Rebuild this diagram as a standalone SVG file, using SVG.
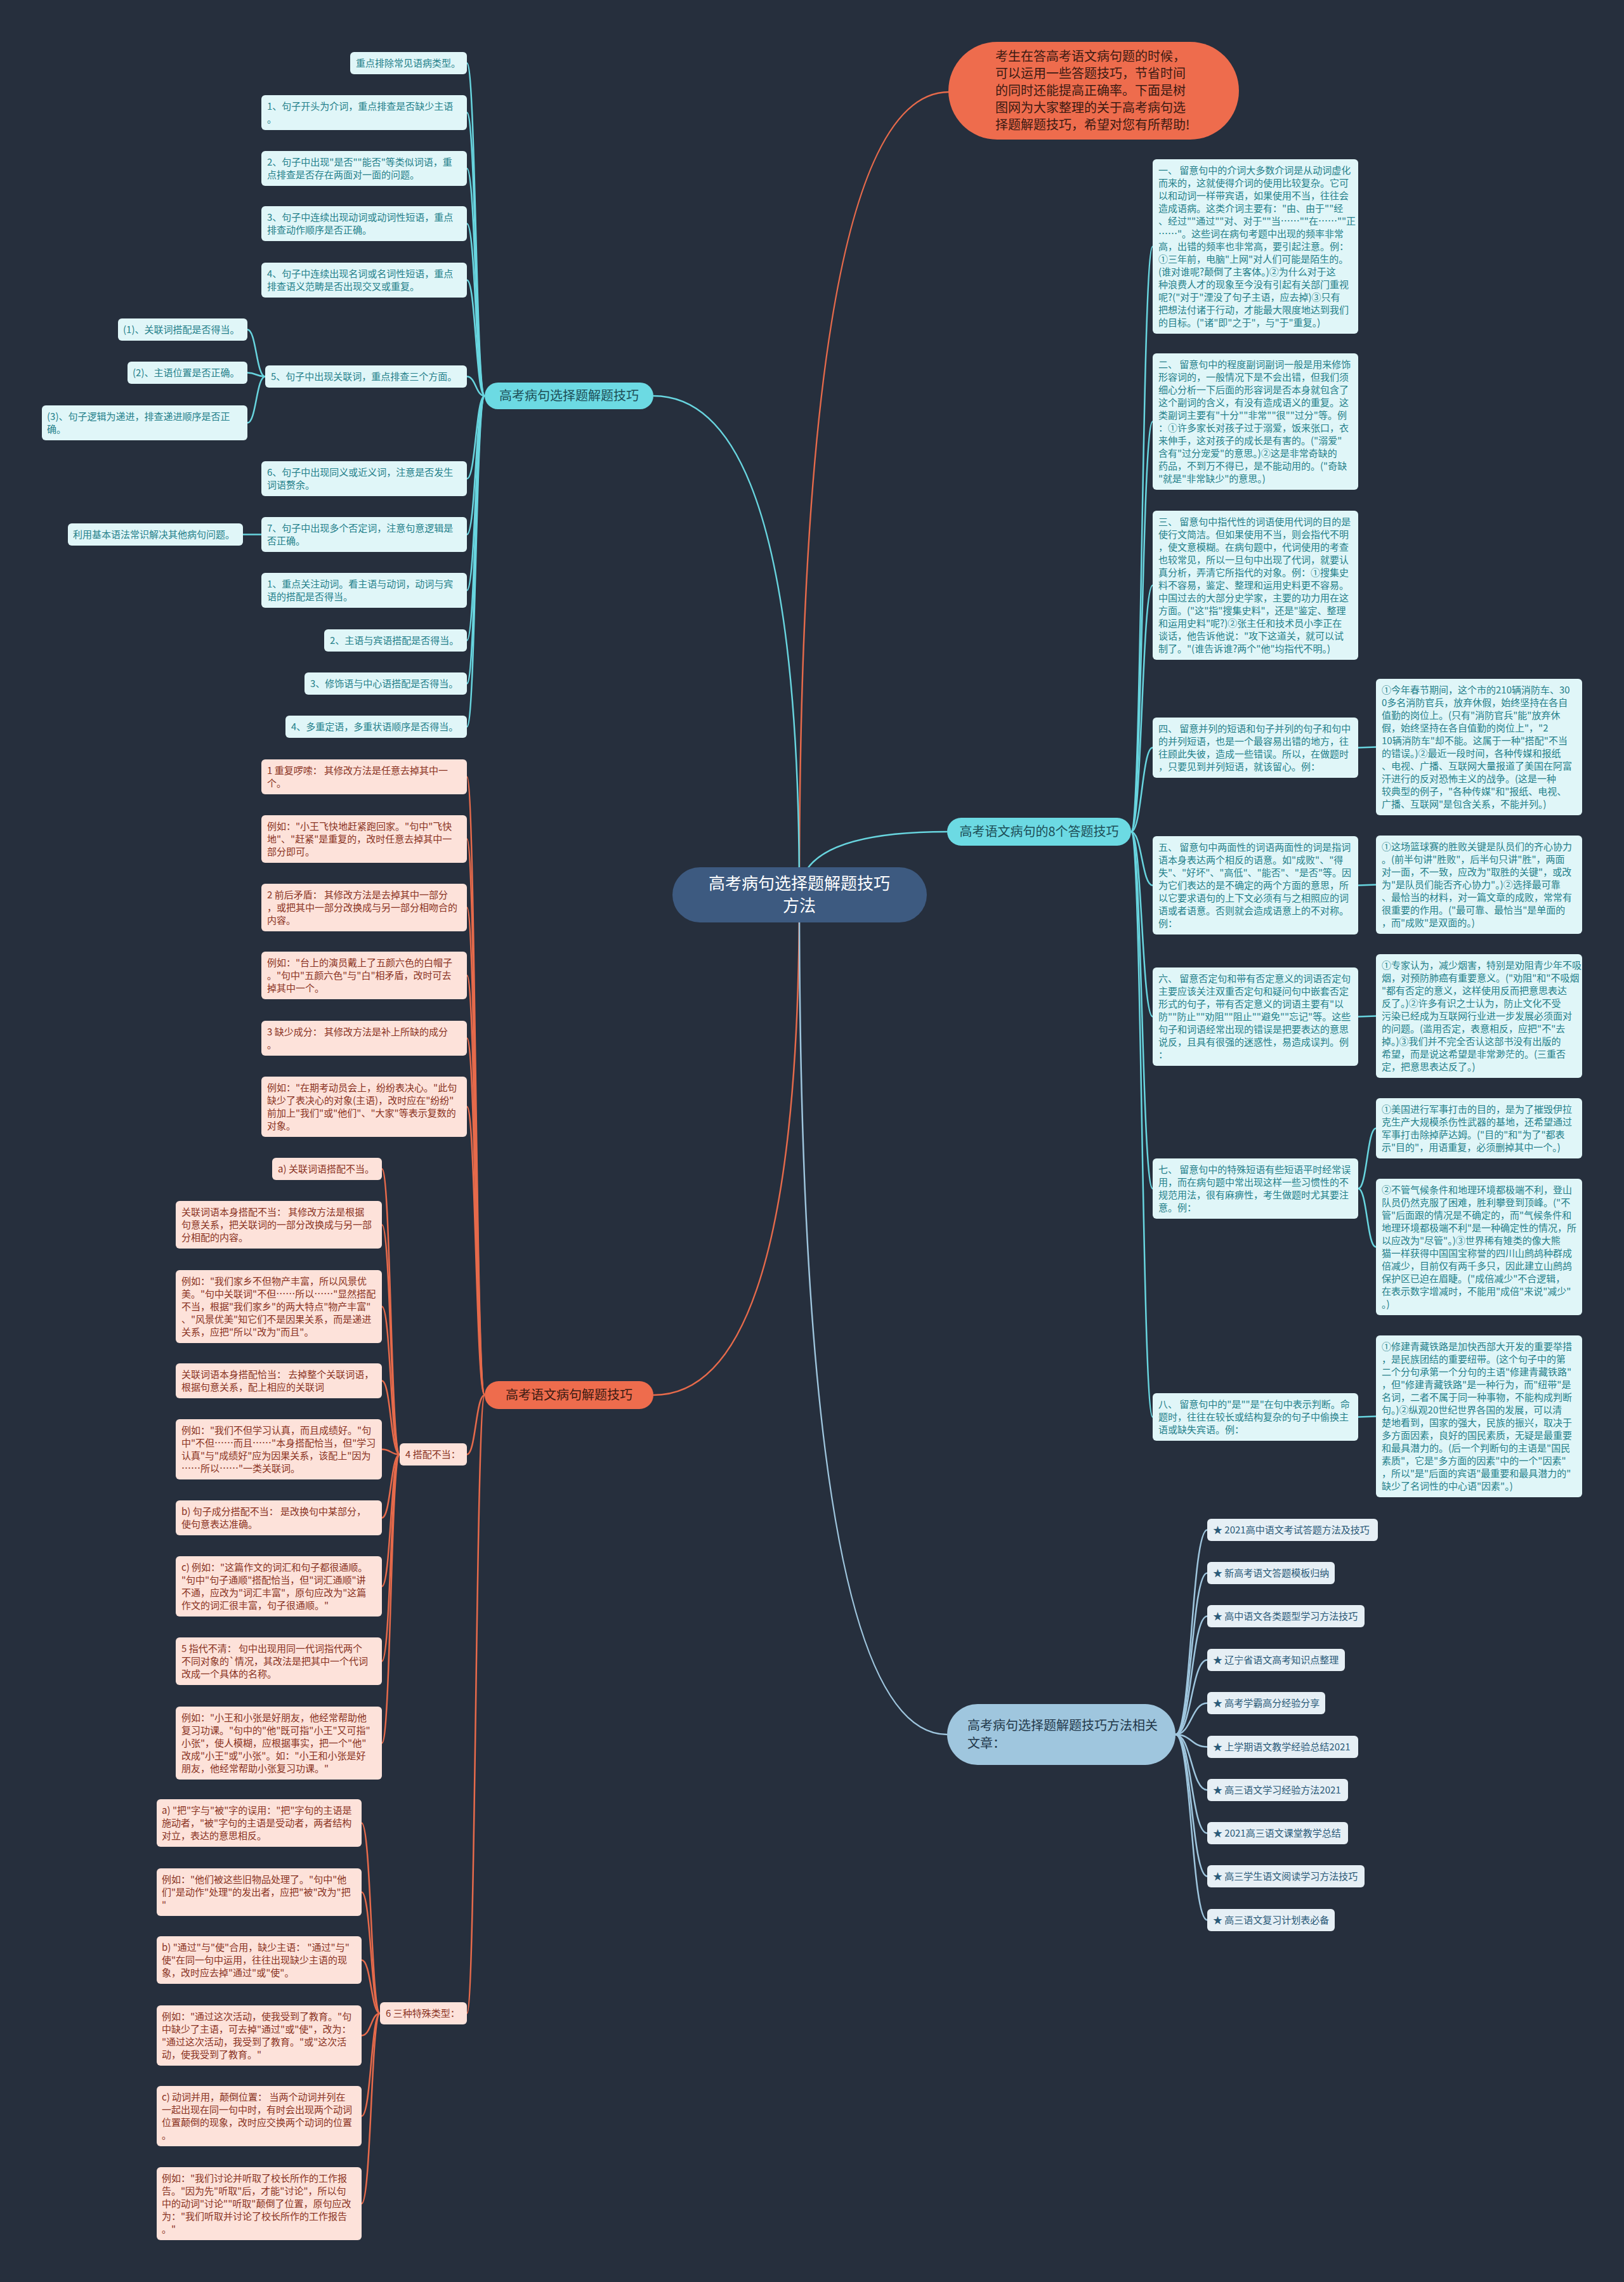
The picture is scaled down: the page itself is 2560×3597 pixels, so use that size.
<svg xmlns="http://www.w3.org/2000/svg" width="2560" height="3597" viewBox="0 0 2560 3597">
<style>
text{font-family:"Noto Sans CJK SC","Noto Sans",sans-serif}
.cl rect{fill:#e0f6f8}
.cl text{fill:#24808a;font-size:15px}
.ol rect{fill:#fde2da}
.ol text{fill:#8a3222;font-size:15px}
.rl rect{fill:#e6eff5}
.rl text{fill:#2a5a78;font-size:15px}
.lc{fill:none;stroke:#68d5df;stroke-width:2.5}
.lo{fill:none;stroke:#e66a4b;stroke-width:2.5}
.lb{fill:none;stroke:#9fc6de;stroke-width:2.5}
.br text{font-size:20px}
</style>
<rect width="2560" height="3597" fill="#262f3d"/>
<g id="connectors">
<path class="lo" d="M1260,1410 Q1260,145 1496,145" stroke-width="3"/>
<path class="lc" d="M1260,1410 Q1260,624 1030,624" stroke-width="3"/>
<path class="lc" d="M1260,1410 Q1260,1311 1493,1311" stroke-width="3"/>
<path class="lo" d="M1260,1410 Q1260,2199 1030,2199" stroke-width="3"/>
<path class="lb" d="M1260,1410 Q1260,2734 1493,2734" stroke-width="3"/>
<path class="lc" d="M764,624 C750,624 750,99.5 736,99.5"/>
<path class="lc" d="M764,624 C750,624 750,177.5 736,177.5"/>
<path class="lc" d="M764,624 C750,624 750,265.5 736,265.5"/>
<path class="lc" d="M764,624 C750,624 750,352.5 736,352.5"/>
<path class="lc" d="M764,624 C750,624 750,441.5 736,441.5"/>
<path class="lc" d="M764,624 C750,624 750,593.5 736,593.5"/>
<path class="lc" d="M764,624 C750,624 750,754.5 736,754.5"/>
<path class="lc" d="M764,624 C750,624 750,842.5 736,842.5"/>
<path class="lc" d="M764,624 C750,624 750,930.5 736,930.5"/>
<path class="lc" d="M764,624 C750,624 750,1009.5 736,1009.5"/>
<path class="lc" d="M764,624 C750,624 750,1077.5 736,1077.5"/>
<path class="lc" d="M764,624 C750,624 750,1145.5 736,1145.5"/>
<path class="lc" d="M418,593.5 C404,593.5 404,519.5 390,519.5"/>
<path class="lc" d="M418,593.5 C404,593.5 404,587.5 390,587.5"/>
<path class="lc" d="M418,593.5 C404,593.5 404,666.5 390,666.5"/>
<path class="lc" d="M412,842.5 L383,842.5"/>
<path class="lo" d="M764,2199 C750,2199 750,1224.5 736,1224.5"/>
<path class="lo" d="M764,2199 C750,2199 750,1322.5 736,1322.5"/>
<path class="lo" d="M764,2199 C750,2199 750,1430.5 736,1430.5"/>
<path class="lo" d="M764,2199 C750,2199 750,1537.5 736,1537.5"/>
<path class="lo" d="M764,2199 C750,2199 750,1636.5 736,1636.5"/>
<path class="lo" d="M764,2199 C750,2199 750,1744.5 736,1744.5"/>
<path class="lo" d="M764,2199 C750,2199 750,2292.5 736,2292.5"/>
<path class="lo" d="M764,2199 C750,2199 750,3173.5 736,3173.5"/>
<path class="lo" d="M630,2292.5 C616,2292.5 616,1842.5 602,1842.5"/>
<path class="lo" d="M630,2292.5 C616,2292.5 616,1930.5 602,1930.5"/>
<path class="lo" d="M630,2292.5 C616,2292.5 616,2059.5 602,2059.5"/>
<path class="lo" d="M630,2292.5 C616,2292.5 616,2176.5 602,2176.5"/>
<path class="lo" d="M630,2292.5 C616,2292.5 616,2284.5 602,2284.5"/>
<path class="lo" d="M630,2292.5 C616,2292.5 616,2392.5 602,2392.5"/>
<path class="lo" d="M630,2292.5 C616,2292.5 616,2500.5 602,2500.5"/>
<path class="lo" d="M630,2292.5 C616,2292.5 616,2618.5 602,2618.5"/>
<path class="lo" d="M630,2292.5 C616,2292.5 616,2747.5 602,2747.5"/>
<path class="lo" d="M599,3173.5 C585,3173.5 585,2873.5 570,2873.5"/>
<path class="lo" d="M599,3173.5 C585,3173.5 585,2982.5 570,2982.5"/>
<path class="lo" d="M599,3173.5 C585,3173.5 585,3089.5 570,3089.5"/>
<path class="lo" d="M599,3173.5 C585,3173.5 585,3208.5 570,3208.5"/>
<path class="lo" d="M599,3173.5 C585,3173.5 585,3335.5 570,3335.5"/>
<path class="lo" d="M599,3173.5 C585,3173.5 585,3473.5 570,3473.5"/>
<path class="lc" d="M1783,1311 C1800,1311 1800,388.5 1817,388.5"/>
<path class="lc" d="M1783,1311 C1800,1311 1800,664.5 1817,664.5"/>
<path class="lc" d="M1783,1311 C1800,1311 1800,922.5 1817,922.5"/>
<path class="lc" d="M1783,1311 C1800,1311 1800,1178.5 1817,1178.5"/>
<path class="lc" d="M1783,1311 C1800,1311 1800,1395.5 1817,1395.5"/>
<path class="lc" d="M1783,1311 C1800,1311 1800,1602.5 1817,1602.5"/>
<path class="lc" d="M1783,1311 C1800,1311 1800,1873.5 1817,1873.5"/>
<path class="lc" d="M1783,1311 C1800,1311 1800,2233.5 1817,2233.5"/>
<path class="lc" d="M2141,1178.5 L2169,1177.5"/>
<path class="lc" d="M2141,1395.5 L2169,1394.5"/>
<path class="lc" d="M2141,1602.5 L2169,1601.5"/>
<path class="lc" d="M2141,1873.5 C2155,1873.5 2155,1778.5 2169,1778.5"/>
<path class="lc" d="M2141,1873.5 C2155,1873.5 2155,1965.5 2169,1965.5"/>
<path class="lc" d="M2141,2233.5 L2169,2232.5"/>
<path class="lb" d="M1853,2734 C1878,2734 1878,2411.5 1903,2411.5"/>
<path class="lb" d="M1853,2734 C1878,2734 1878,2479.5 1903,2479.5"/>
<path class="lb" d="M1853,2734 C1878,2734 1878,2547.5 1903,2547.5"/>
<path class="lb" d="M1853,2734 C1878,2734 1878,2616.5 1903,2616.5"/>
<path class="lb" d="M1853,2734 C1878,2734 1878,2684.5 1903,2684.5"/>
<path class="lb" d="M1853,2734 C1878,2734 1878,2753.5 1903,2753.5"/>
<path class="lb" d="M1853,2734 C1878,2734 1878,2821.5 1903,2821.5"/>
<path class="lb" d="M1853,2734 C1878,2734 1878,2889.5 1903,2889.5"/>
<path class="lb" d="M1853,2734 C1878,2734 1878,2957.5 1903,2957.5"/>
<path class="lb" d="M1853,2734 C1878,2734 1878,3026.5 1903,3026.5"/>
</g>

<g id="root"><rect x="1060" y="1367" width="401" height="87" rx="43.5" fill="#3d5a80"/><text x="1260" y="1402" font-size="26" fill="#ffffff" text-anchor="middle"><tspan x="1260">高考病句选择题解题技巧</tspan><tspan x="1260" dy="35">方法</tspan></text></g>

<g id="intro"><rect x="1495" y="66" width="458" height="154" rx="77" fill="#ee6c4d"/><text x="1569" y="96" font-size="20" fill="#3b1a12"><tspan x="1569">考生在答高考语文病句题的时候，</tspan><tspan x="1569" dy="27">可以运用一些答题技巧，节省时间</tspan><tspan x="1569" dy="27">的同时还能提高正确率。下面是树</tspan><tspan x="1569" dy="27">图网为大家整理的关于高考病句选</tspan><tspan x="1569" dy="27">择题解题技巧，希望对您有所帮助!</tspan></text></g>

<g id="b1" class="br"><rect x="764" y="603" width="266" height="42" rx="21" fill="#6cdae3"/><text x="897" y="631" text-anchor="middle" fill="#1c4d56">高考病句选择题解题技巧</text></g>
<g id="b2" class="br"><rect x="764" y="2177" width="266" height="44" rx="22" fill="#ee6c4d"/><text x="897" y="2206" text-anchor="middle" fill="#3b1a12">高考语文病句解题技巧</text></g>
<g id="b3" class="br"><rect x="1493" y="1289" width="290" height="44" rx="22" fill="#6cdae3"/><text x="1638" y="1318" text-anchor="middle" fill="#1c4d56">高考语文病句的8个答题技巧</text></g>
<g id="b4" class="br"><rect x="1493" y="2686" width="360" height="96" rx="48" fill="#9fc6de"/><text x="1525" y="2727" fill="#22384a"><tspan x="1525">高考病句选择题解题技巧方法相关</tspan><tspan x="1525" dy="28">文章：</tspan></text></g>

<g id="c1" class="cl"><rect x="552" y="82" width="184" height="35" rx="6"/><text x="561" y="105">重点排除常见语病类型。</text></g>
<g id="c2" class="cl"><rect x="412" y="150" width="324" height="55" rx="6"/><text x="421" y="173"><tspan x="421">1、句子开头为介词，重点排查是否缺少主语</tspan><tspan x="421" dy="20">。</tspan></text></g>
<g id="c3" class="cl"><rect x="412" y="238" width="324" height="55" rx="6"/><text x="421" y="261"><tspan x="421">2、句子中出现"是否""能否"等类似词语，重</tspan><tspan x="421" dy="20">点排查是否存在两面对一面的问题。</tspan></text></g>
<g id="c4" class="cl"><rect x="412" y="325" width="324" height="55" rx="6"/><text x="421" y="348"><tspan x="421">3、句子中连续出现动词或动词性短语，重点</tspan><tspan x="421" dy="20">排查动作顺序是否正确。</tspan></text></g>
<g id="c5" class="cl"><rect x="412" y="414" width="324" height="55" rx="6"/><text x="421" y="437"><tspan x="421">4、句子中连续出现名词或名词性短语，重点</tspan><tspan x="421" dy="20">排查语义范畴是否出现交叉或重复。</tspan></text></g>
<g id="c6" class="cl"><rect x="418" y="576" width="318" height="35" rx="6"/><text x="427" y="599">5、句子中出现关联词，重点排查三个方面。</text></g>
<g id="c6a" class="cl"><rect x="186" y="502" width="204" height="35" rx="6"/><text x="194" y="525">(1)、关联词搭配是否得当。</text></g>
<g id="c6b" class="cl"><rect x="201" y="570" width="189" height="35" rx="6"/><text x="209" y="593">(2)、主语位置是否正确。</text></g>
<g id="c6c" class="cl"><rect x="66" y="639" width="324" height="55" rx="6"/><text x="74" y="662"><tspan x="74">(3)、句子逻辑为递进，排查递进顺序是否正</tspan><tspan x="74" dy="20">确。</tspan></text></g>
<g id="c7" class="cl"><rect x="412" y="727" width="324" height="55" rx="6"/><text x="421" y="750"><tspan x="421">6、句子中出现同义或近义词，注意是否发生</tspan><tspan x="421" dy="20">词语赘余。</tspan></text></g>
<g id="c8" class="cl"><rect x="412" y="815" width="324" height="55" rx="6"/><text x="421" y="838"><tspan x="421">7、句子中出现多个否定词，注意句意逻辑是</tspan><tspan x="421" dy="20">否正确。</tspan></text></g>
<g id="c8a" class="cl"><rect x="107" y="825" width="276" height="35" rx="6"/><text x="115" y="848">利用基本语法常识解决其他病句问题。</text></g>
<g id="c9" class="cl"><rect x="412" y="903" width="324" height="55" rx="6"/><text x="421" y="926"><tspan x="421">1、重点关注动词。看主语与动词，动词与宾</tspan><tspan x="421" dy="20">语的搭配是否得当。</tspan></text></g>
<g id="c10" class="cl"><rect x="511" y="992" width="225" height="35" rx="6"/><text x="520" y="1015">2、主语与宾语搭配是否得当。</text></g>
<g id="c11" class="cl"><rect x="480" y="1060" width="256" height="35" rx="6"/><text x="489" y="1083">3、修饰语与中心语搭配是否得当。</text></g>
<g id="c12" class="cl"><rect x="450" y="1128" width="286" height="35" rx="6"/><text x="459" y="1151">4、多重定语，多重状语顺序是否得当。</text></g>

<g id="o1" class="ol"><rect x="412" y="1197" width="324" height="55" rx="6"/><text x="421" y="1220"><tspan x="421">1 重复啰嗦： 其修改方法是任意去掉其中一</tspan><tspan x="421" dy="20">个。</tspan></text></g>
<g id="o2" class="ol"><rect x="412" y="1285" width="324" height="75" rx="6"/><text x="421" y="1308"><tspan x="421">例如："小王飞快地赶紧跑回家。"句中"飞快</tspan><tspan x="421" dy="20">地"、"赶紧"是重复的，改时任意去掉其中一</tspan><tspan x="421" dy="20">部分即可。</tspan></text></g>
<g id="o3" class="ol"><rect x="412" y="1393" width="324" height="75" rx="6"/><text x="421" y="1416"><tspan x="421">2 前后矛盾： 其修改方法是去掉其中一部分</tspan><tspan x="421" dy="20">，或把其中一部分改换成与另一部分相吻合的</tspan><tspan x="421" dy="20">内容。</tspan></text></g>
<g id="o4" class="ol"><rect x="412" y="1500" width="324" height="75" rx="6"/><text x="421" y="1523"><tspan x="421">例如："台上的演员戴上了五颜六色的白帽子</tspan><tspan x="421" dy="20">。"句中"五颜六色"与"白"相矛盾，改时可去</tspan><tspan x="421" dy="20">掉其中一个。</tspan></text></g>
<g id="o5" class="ol"><rect x="412" y="1609" width="324" height="55" rx="6"/><text x="421" y="1632"><tspan x="421">3 缺少成分： 其修改方法是补上所缺的成分</tspan><tspan x="421" dy="20">。</tspan></text></g>
<g id="o6" class="ol"><rect x="412" y="1697" width="324" height="95" rx="6"/><text x="421" y="1720"><tspan x="421">例如："在期考动员会上，纷纷表决心。"此句</tspan><tspan x="421" dy="20">缺少了表决心的对象(主语)，改时应在"纷纷"</tspan><tspan x="421" dy="20">前加上"我们"或"他们"、"大家"等表示复数的</tspan><tspan x="421" dy="20">对象。</tspan></text></g>
<g id="o7" class="ol"><rect x="630" y="2275" width="106" height="35" rx="6"/><text x="639" y="2298">4 搭配不当：</text></g>
<g id="o7a" class="ol"><rect x="429" y="1825" width="173" height="35" rx="6"/><text x="438" y="1848">a) 关联词语搭配不当。</text></g>
<g id="o7b" class="ol"><rect x="277" y="1893" width="325" height="75" rx="6"/><text x="286" y="1916"><tspan x="286">关联词语本身搭配不当： 其修改方法是根据</tspan><tspan x="286" dy="20">句意关系，把关联词的一部分改换成与另一部</tspan><tspan x="286" dy="20">分相配的内容。</tspan></text></g>
<g id="o7c" class="ol"><rect x="277" y="2002" width="325" height="115" rx="6"/><text x="286" y="2025"><tspan x="286">例如："我们家乡不但物产丰富，所以风景优</tspan><tspan x="286" dy="20">美。"句中关联词"不但……所以……"显然搭配</tspan><tspan x="286" dy="20">不当，根据"我们家乡"的两大特点"物产丰富"</tspan><tspan x="286" dy="20">、"风景优美"知它们不是因果关系，而是递进</tspan><tspan x="286" dy="20">关系，应把"所以"改为"而且"。</tspan></text></g>
<g id="o7d" class="ol"><rect x="277" y="2149" width="325" height="55" rx="6"/><text x="286" y="2172"><tspan x="286">关联词语本身搭配恰当： 去掉整个关联词语，</tspan><tspan x="286" dy="20">根据句意关系，配上相应的关联词</tspan></text></g>
<g id="o7e" class="ol"><rect x="277" y="2237" width="325" height="95" rx="6"/><text x="286" y="2260"><tspan x="286">例如："我们不但学习认真，而且成绩好。"句</tspan><tspan x="286" dy="20">中"不但……而且……"本身搭配恰当，但"学习</tspan><tspan x="286" dy="20">认真"与"成绩好"应为因果关系，该配上"因为</tspan><tspan x="286" dy="20">……所以……"一类关联词。</tspan></text></g>
<g id="o7f" class="ol"><rect x="277" y="2365" width="325" height="55" rx="6"/><text x="286" y="2388"><tspan x="286">b) 句子成分搭配不当： 是改换句中某部分，</tspan><tspan x="286" dy="20">使句意表达准确。</tspan></text></g>
<g id="o7g" class="ol"><rect x="277" y="2453" width="325" height="95" rx="6"/><text x="286" y="2476"><tspan x="286">c) 例如："这篇作文的词汇和句子都很通顺。</tspan><tspan x="286" dy="20">"句中"句子通顺"搭配恰当，但"词汇通顺"讲</tspan><tspan x="286" dy="20">不通，应改为"词汇丰富"，原句应改为"这篇</tspan><tspan x="286" dy="20">作文的词汇很丰富，句子很通顺。"</tspan></text></g>
<g id="o7h" class="ol"><rect x="277" y="2581" width="325" height="75" rx="6"/><text x="286" y="2604"><tspan x="286">5 指代不清： 句中出现用同一代词指代两个</tspan><tspan x="286" dy="20">不同对象的`情况，其改法是把其中一个代词</tspan><tspan x="286" dy="20">改成一个具体的名称。</tspan></text></g>
<g id="o7i" class="ol"><rect x="277" y="2690" width="325" height="115" rx="6"/><text x="286" y="2713"><tspan x="286">例如："小王和小张是好朋友，他经常帮助他</tspan><tspan x="286" dy="20">复习功课。"句中的"他"既可指"小王"又可指"</tspan><tspan x="286" dy="20">小张"，使人模糊，应根据事实，把一个"他"</tspan><tspan x="286" dy="20">改成"小王"或"小张"。如："小王和小张是好</tspan><tspan x="286" dy="20">朋友，他经常帮助小张复习功课。"</tspan></text></g>
<g id="o8" class="ol"><rect x="599" y="3156" width="137" height="35" rx="6"/><text x="608" y="3179">6 三种特殊类型：</text></g>
<g id="o8a" class="ol"><rect x="247" y="2836" width="323" height="75" rx="6"/><text x="255" y="2859"><tspan x="255">a) "把"字与"被"字的误用："把"字句的主语是</tspan><tspan x="255" dy="20">施动者，"被"字句的主语是受动者，两者结构</tspan><tspan x="255" dy="20">对立，表达的意思相反。</tspan></text></g>
<g id="o8b" class="ol"><rect x="247" y="2945" width="323" height="75" rx="6"/><text x="255" y="2968"><tspan x="255">例如："他们被这些旧物品处理了。"句中"他</tspan><tspan x="255" dy="20">们"是动作"处理"的发出者，应把"被"改为"把</tspan><tspan x="255" dy="20">"</tspan></text></g>
<g id="o8c" class="ol"><rect x="247" y="3052" width="323" height="75" rx="6"/><text x="255" y="3075"><tspan x="255">b) "通过"与"使"合用，缺少主语： "通过"与"</tspan><tspan x="255" dy="20">使"在同一句中运用，往往出现缺少主语的现</tspan><tspan x="255" dy="20">象，改时应去掉"通过"或"使"。</tspan></text></g>
<g id="o8d" class="ol"><rect x="247" y="3161" width="323" height="95" rx="6"/><text x="255" y="3184"><tspan x="255">例如："通过这次活动，使我受到了教育。"句</tspan><tspan x="255" dy="20">中缺少了主语，可去掉"通过"或"使"，改为：</tspan><tspan x="255" dy="20">"通过这次活动，我受到了教育。"或"这次活</tspan><tspan x="255" dy="20">动，使我受到了教育。"</tspan></text></g>
<g id="o8e" class="ol"><rect x="247" y="3288" width="323" height="95" rx="6"/><text x="255" y="3311"><tspan x="255">c) 动词并用，颠倒位置： 当两个动词并列在</tspan><tspan x="255" dy="20">一起出现在同一句中时，有时会出现两个动词</tspan><tspan x="255" dy="20">位置颠倒的现象，改时应交换两个动词的位置</tspan><tspan x="255" dy="20">。</tspan></text></g>
<g id="o8f" class="ol"><rect x="247" y="3416" width="323" height="115" rx="6"/><text x="255" y="3439"><tspan x="255">例如："我们讨论并听取了校长所作的工作报</tspan><tspan x="255" dy="20">告。"因为先"听取"后，才能"讨论"，所以句</tspan><tspan x="255" dy="20">中的动词"讨论""听取"颠倒了位置，原句应改</tspan><tspan x="255" dy="20">为："我们听取并讨论了校长所作的工作报告</tspan><tspan x="255" dy="20">。"</tspan></text></g>

<g id="t1" class="cl"><rect x="1817" y="251" width="324" height="275" rx="6"/><text x="1826" y="274"><tspan x="1826">一、 留意句中的介词大多数介词是从动词虚化</tspan><tspan x="1826" dy="20">而来的，这就使得介词的使用比较复杂。它可</tspan><tspan x="1826" dy="20">以和动词一样带宾语，如果使用不当，往往会</tspan><tspan x="1826" dy="20">造成语病。这类介词主要有："由、由于""经</tspan><tspan x="1826" dy="20">、经过""通过""对、对于""当……""在……""正</tspan><tspan x="1826" dy="20">……"。这些词在病句考题中出现的频率非常</tspan><tspan x="1826" dy="20">高，出错的频率也非常高，要引起注意。例：</tspan><tspan x="1826" dy="20">①三年前，电脑"上网"对人们可能是陌生的。</tspan><tspan x="1826" dy="20">(谁对谁呢?颠倒了主客体。)②为什么对于这</tspan><tspan x="1826" dy="20">种浪费人才的现象至今没有引起有关部门重视</tspan><tspan x="1826" dy="20">呢?("对于"湮没了句子主语，应去掉)③只有</tspan><tspan x="1826" dy="20">把想法付诸于行动，才能最大限度地达到我们</tspan><tspan x="1826" dy="20">的目标。("诸"即"之于"，与"于"重复。)</tspan></text></g>
<g id="t2" class="cl"><rect x="1817" y="557" width="324" height="215" rx="6"/><text x="1826" y="580"><tspan x="1826">二、 留意句中的程度副词副词一般是用来修饰</tspan><tspan x="1826" dy="20">形容词的，一般情况下是不会出错，但我们须</tspan><tspan x="1826" dy="20">细心分析一下后面的形容词是否本身就包含了</tspan><tspan x="1826" dy="20">这个副词的含义，有没有造成语义的重复。这</tspan><tspan x="1826" dy="20">类副词主要有"十分""非常""很""过分"等。例</tspan><tspan x="1826" dy="20">：①许多家长对孩子过于溺爱，饭来张口，衣</tspan><tspan x="1826" dy="20">来伸手，这对孩子的成长是有害的。("溺爱"</tspan><tspan x="1826" dy="20">含有"过分宠爱"的意思。)②这是非常奇缺的</tspan><tspan x="1826" dy="20">药品，不到万不得已，是不能动用的。("奇缺</tspan><tspan x="1826" dy="20">"就是"非常缺少"的意思。)</tspan></text></g>
<g id="t3" class="cl"><rect x="1817" y="805" width="324" height="235" rx="6"/><text x="1826" y="828"><tspan x="1826">三、 留意句中指代性的词语使用代词的目的是</tspan><tspan x="1826" dy="20">使行文简洁。但如果使用不当，则会指代不明</tspan><tspan x="1826" dy="20">，使文意模糊。在病句题中，代词使用的考查</tspan><tspan x="1826" dy="20">也较常见，所以一旦句中出现了代词，就要认</tspan><tspan x="1826" dy="20">真分析，弄清它所指代的对象。例：①搜集史</tspan><tspan x="1826" dy="20">料不容易，鉴定、整理和运用史料更不容易。</tspan><tspan x="1826" dy="20">中国过去的大部分史学家，主要的功力用在这</tspan><tspan x="1826" dy="20">方面。("这"指"搜集史料"，还是"鉴定、整理</tspan><tspan x="1826" dy="20">和运用史料"呢?)②张主任和技术员小李正在</tspan><tspan x="1826" dy="20">谈话，他告诉他说："攻下这道关，就可以试</tspan><tspan x="1826" dy="20">制了。"(谁告诉谁?两个"他"均指代不明。)</tspan></text></g>
<g id="t4" class="cl"><rect x="1817" y="1131" width="324" height="95" rx="6"/><text x="1826" y="1154"><tspan x="1826">四、 留意并列的短语和句子并列的句子和句中</tspan><tspan x="1826" dy="20">的并列短语，也是一个最容易出错的地方，往</tspan><tspan x="1826" dy="20">往顾此失彼，造成一些错误。所以，在做题时</tspan><tspan x="1826" dy="20">，只要见到并列短语，就该留心。例：</tspan></text></g>
<g id="t5" class="cl"><rect x="1817" y="1318" width="324" height="155" rx="6"/><text x="1826" y="1341"><tspan x="1826">五、 留意句中两面性的词语两面性的词是指词</tspan><tspan x="1826" dy="20">语本身表达两个相反的语意。如"成败"、"得</tspan><tspan x="1826" dy="20">失"、"好坏"、"高低"、"能否"、"是否"等。因</tspan><tspan x="1826" dy="20">为它们表达的是不确定的两个方面的意思，所</tspan><tspan x="1826" dy="20">以它要求语句的上下文必须有与之相照应的词</tspan><tspan x="1826" dy="20">语或者语意。否则就会造成语意上的不对称。</tspan><tspan x="1826" dy="20">例：</tspan></text></g>
<g id="t6" class="cl"><rect x="1817" y="1525" width="324" height="155" rx="6"/><text x="1826" y="1548"><tspan x="1826">六、 留意否定句和带有否定意义的词语否定句</tspan><tspan x="1826" dy="20">主要应该关注双重否定句和疑问句中嵌套否定</tspan><tspan x="1826" dy="20">形式的句子，带有否定意义的词语主要有"以</tspan><tspan x="1826" dy="20">防""防止""劝阻""阻止""避免""忘记"等。这些</tspan><tspan x="1826" dy="20">句子和词语经常出现的错误是把要表达的意思</tspan><tspan x="1826" dy="20">说反，且具有很强的迷惑性，易造成误判。例</tspan><tspan x="1826" dy="20">：</tspan></text></g>
<g id="t7" class="cl"><rect x="1817" y="1826" width="324" height="95" rx="6"/><text x="1826" y="1849"><tspan x="1826">七、 留意句中的特殊短语有些短语平时经常误</tspan><tspan x="1826" dy="20">用，而在病句题中常出现这样一些习惯性的不</tspan><tspan x="1826" dy="20">规范用法，很有麻痹性，考生做题时尤其要注</tspan><tspan x="1826" dy="20">意。例：</tspan></text></g>
<g id="t8" class="cl"><rect x="1817" y="2196" width="324" height="75" rx="6"/><text x="1826" y="2219"><tspan x="1826">八、 留意句中的"是""是"在句中表示判断。命</tspan><tspan x="1826" dy="20">题时，往往在较长或结构复杂的句子中偷换主</tspan><tspan x="1826" dy="20">语或缺失宾语。例：</tspan></text></g>

<g id="e1" class="cl"><rect x="2169" y="1070" width="325" height="215" rx="6"/><text x="2178" y="1093"><tspan x="2178">①今年春节期间，这个市的210辆消防车、30</tspan><tspan x="2178" dy="20">0多名消防官兵，放弃休假，始终坚持在各自</tspan><tspan x="2178" dy="20">值勤的岗位上。(只有"消防官兵"能"放弃休</tspan><tspan x="2178" dy="20">假，始终坚持在各自值勤的岗位上"，"2</tspan><tspan x="2178" dy="20">10辆消防车"却不能。这属于一种"搭配"不当</tspan><tspan x="2178" dy="20">的错误。)②最近一段时间，各种传媒和报纸</tspan><tspan x="2178" dy="20">、电视、广播、互联网大量报道了美国在阿富</tspan><tspan x="2178" dy="20">汗进行的反对恐怖主义的战争。(这是一种</tspan><tspan x="2178" dy="20">较典型的例子，"各种传媒"和"报纸、电视、</tspan><tspan x="2178" dy="20">广播、互联网"是包含关系，不能并列。)</tspan></text></g>
<g id="e2" class="cl"><rect x="2169" y="1317" width="325" height="155" rx="6"/><text x="2178" y="1340"><tspan x="2178">①这场篮球赛的胜败关键是队员们的齐心协力</tspan><tspan x="2178" dy="20">。(前半句讲"胜败"，后半句只讲"胜"，两面</tspan><tspan x="2178" dy="20">对一面，不一致，应改为"取胜的关键"，或改</tspan><tspan x="2178" dy="20">为"是队员们能否齐心协力"。)②选择最可靠</tspan><tspan x="2178" dy="20">、最恰当的材料，对一篇文章的成败，常常有</tspan><tspan x="2178" dy="20">很重要的作用。("最可靠、最恰当"是单面的</tspan><tspan x="2178" dy="20">，而"成败"是双面的。)</tspan></text></g>
<g id="e3" class="cl"><rect x="2169" y="1504" width="325" height="195" rx="6"/><text x="2178" y="1527"><tspan x="2178">①专家认为，减少烟害，特别是劝阻青少年不吸</tspan><tspan x="2178" dy="20">烟，对预防肺癌有重要意义。("劝阻"和"不吸烟</tspan><tspan x="2178" dy="20">"都有否定的意义，这样使用反而把意思表达</tspan><tspan x="2178" dy="20">反了。)②许多有识之士认为，防止文化不受</tspan><tspan x="2178" dy="20">污染已经成为互联网行业进一步发展必须面对</tspan><tspan x="2178" dy="20">的问题。(滥用否定，表意相反，应把"不"去</tspan><tspan x="2178" dy="20">掉。)③我们并不完全否认这部书没有出版的</tspan><tspan x="2178" dy="20">希望，而是说这希望是非常渺茫的。(三重否</tspan><tspan x="2178" dy="20">定，把意思表达反了。)</tspan></text></g>
<g id="e4" class="cl"><rect x="2169" y="1731" width="325" height="95" rx="6"/><text x="2178" y="1754"><tspan x="2178">①美国进行军事打击的目的，是为了摧毁伊拉</tspan><tspan x="2178" dy="20">克生产大规模杀伤性武器的基地，还希望通过</tspan><tspan x="2178" dy="20">军事打击除掉萨达姆。("目的"和"为了"都表</tspan><tspan x="2178" dy="20">示"目的"，用语重复，必须删掉其中一个。)</tspan></text></g>
<g id="e5" class="cl"><rect x="2169" y="1858" width="325" height="215" rx="6"/><text x="2178" y="1881"><tspan x="2178">②不管气候条件和地理环境都极端不利，登山</tspan><tspan x="2178" dy="20">队员仍然克服了困难，胜利攀登到顶峰。("不</tspan><tspan x="2178" dy="20">管"后面跟的情况是不确定的，而"气候条件和</tspan><tspan x="2178" dy="20">地理环境都极端不利"是一种确定性的情况，所</tspan><tspan x="2178" dy="20">以应改为"尽管"。)③世界稀有雉类的像大熊</tspan><tspan x="2178" dy="20">猫一样获得中国国宝称誉的四川山鹧鸪种群成</tspan><tspan x="2178" dy="20">倍减少，目前仅有两千多只，因此建立山鹧鸪</tspan><tspan x="2178" dy="20">保护区已迫在眉睫。("成倍减少"不合逻辑，</tspan><tspan x="2178" dy="20">在表示数字增减时，不能用"成倍"来说"减少"</tspan><tspan x="2178" dy="20">。)</tspan></text></g>
<g id="e6" class="cl"><rect x="2169" y="2105" width="325" height="255" rx="6"/><text x="2178" y="2128"><tspan x="2178">①修建青藏铁路是加快西部大开发的重要举措</tspan><tspan x="2178" dy="20">，是民族团结的重要纽带。(这个句子中的第</tspan><tspan x="2178" dy="20">二个分句承第一个分句的主语"修建青藏铁路"</tspan><tspan x="2178" dy="20">，但"修建青藏铁路"是一种行为，而"纽带"是</tspan><tspan x="2178" dy="20">名词，二者不属于同一种事物，不能构成判断</tspan><tspan x="2178" dy="20">句。)②纵观20世纪世界各国的发展，可以清</tspan><tspan x="2178" dy="20">楚地看到，国家的强大，民族的振兴，取决于</tspan><tspan x="2178" dy="20">多方面因素，良好的国民素质，无疑是最重要</tspan><tspan x="2178" dy="20">和最具潜力的。(后一个判断句的主语是"国民</tspan><tspan x="2178" dy="20">素质"，它是"多方面的因素"中的一个"因素"</tspan><tspan x="2178" dy="20">，所以"是"后面的宾语"最重要和最具潜力的"</tspan><tspan x="2178" dy="20">缺少了名词性的中心语"因素"。)</tspan></text></g>

<g id="r1" class="rl"><rect x="1903" y="2394" width="269" height="35" rx="6"/><text x="1912" y="2417">★ 2021高中语文考试答题方法及技巧</text></g>
<g id="r2" class="rl"><rect x="1903" y="2462" width="201" height="35" rx="6"/><text x="1912" y="2485">★ 新高考语文答题模板归纳</text></g>
<g id="r3" class="rl"><rect x="1903" y="2530" width="248" height="35" rx="6"/><text x="1912" y="2553">★ 高中语文各类题型学习方法技巧</text></g>
<g id="r4" class="rl"><rect x="1903" y="2599" width="217" height="35" rx="6"/><text x="1912" y="2622">★ 辽宁省语文高考知识点整理</text></g>
<g id="r5" class="rl"><rect x="1903" y="2667" width="186" height="35" rx="6"/><text x="1912" y="2690">★ 高考学霸高分经验分享</text></g>
<g id="r6" class="rl"><rect x="1903" y="2736" width="238" height="35" rx="6"/><text x="1912" y="2759">★ 上学期语文教学经验总结2021</text></g>
<g id="r7" class="rl"><rect x="1903" y="2804" width="222" height="35" rx="6"/><text x="1912" y="2827">★ 高三语文学习经验方法2021</text></g>
<g id="r8" class="rl"><rect x="1903" y="2872" width="222" height="35" rx="6"/><text x="1912" y="2895">★ 2021高三语文课堂教学总结</text></g>
<g id="r9" class="rl"><rect x="1903" y="2940" width="248" height="35" rx="6"/><text x="1912" y="2963">★ 高三学生语文阅读学习方法技巧</text></g>
<g id="r10" class="rl"><rect x="1903" y="3009" width="201" height="35" rx="6"/><text x="1912" y="3032">★ 高三语文复习计划表必备</text></g>
</svg>
